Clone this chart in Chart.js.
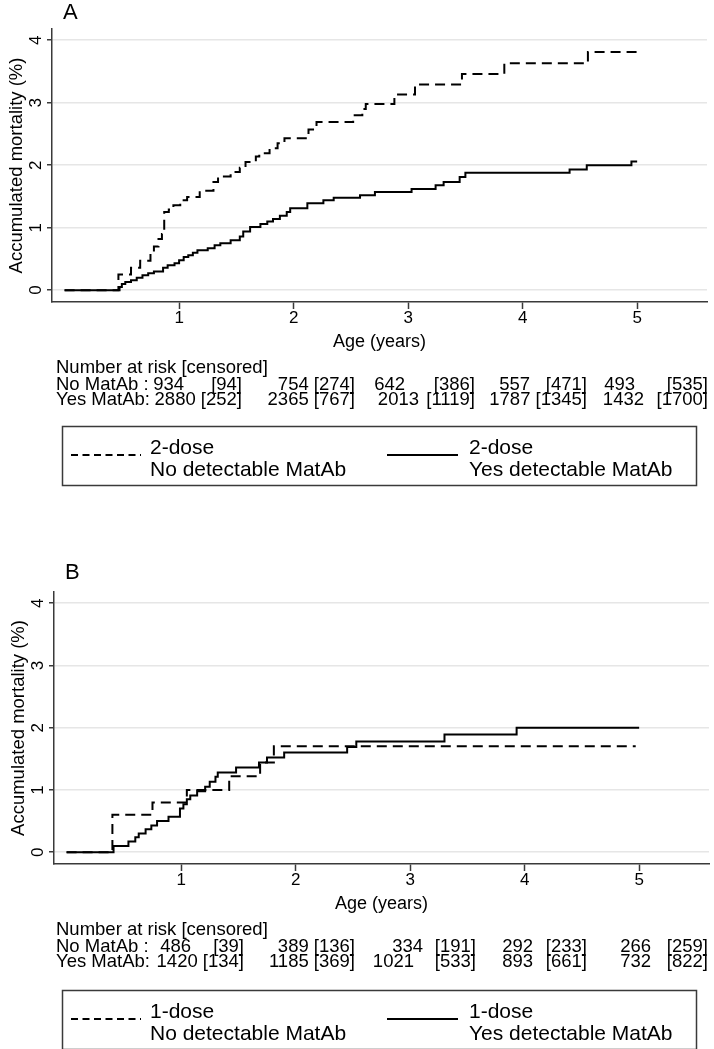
<!DOCTYPE html>
<html><head><meta charset="utf-8">
<script src="https://cdn.jsdelivr.net/npm/chart.js@4.4.1/dist/chart.umd.min.js"></script>
<style>
html,body{margin:0;padding:0;background:#fff;}
#wrap{position:relative;width:714px;height:1049px;overflow:hidden;background:#fff;}
canvas{position:absolute;left:0;}
</style></head><body>
<div id="wrap">
<canvas id="cA" width="714" height="561" style="top:0"></canvas>
<canvas id="cB" width="714" height="487" style="top:562px"></canvas>
</div>
<script>
// ---------- data ----------
const yTicks = [0, 1, 2, 3, 4];
const xTicks = [1, 2, 3, 4, 5];

// Panel A, 2-dose
const a2NoT  = [0, 0.47, 0.58, 0.66, 0.75, 0.78, 0.82, 0.85, 0.87, 0.91, 0.95, 1.01, 1.07, 1.18, 1.30, 1.34, 1.45, 1.53, 1.58, 1.67, 1.70, 1.79, 1.86, 1.92, 2.13, 2.20, 2.52, 2.60, 2.63, 2.88, 3.06, 3.47, 3.84, 4.57, 5.00];
const a2NoV  = [0, 0.25, 0.36, 0.47, 0.59, 0.70, 0.82, 0.90, 1.25, 1.29, 1.36, 1.44, 1.49, 1.59, 1.73, 1.82, 1.89, 1.96, 2.05, 2.14, 2.19, 2.27, 2.35, 2.43, 2.57, 2.69, 2.80, 2.90, 2.98, 3.13, 3.29, 3.46, 3.63, 3.81, 3.81];
const a2YesT = [0, 0.48, 0.50, 0.53, 0.58, 0.63, 0.68, 0.73, 0.78, 0.86, 0.90, 0.96, 1.00, 1.04, 1.08, 1.12, 1.16, 1.25, 1.31, 1.36, 1.45, 1.53, 1.56, 1.62, 1.71, 1.77, 1.82, 1.88, 1.94, 1.97, 2.12, 2.26, 2.35, 2.58, 2.71, 3.03, 3.24, 3.31, 3.45, 3.50, 4.41, 4.56, 4.95, 5.00];
const a2YesV = [0, 0.05, 0.10, 0.13, 0.16, 0.20, 0.24, 0.27, 0.30, 0.36, 0.40, 0.43, 0.48, 0.53, 0.56, 0.60, 0.64, 0.67, 0.72, 0.75, 0.80, 0.86, 0.94, 1.01, 1.06, 1.10, 1.14, 1.19, 1.25, 1.31, 1.39, 1.44, 1.48, 1.52, 1.57, 1.62, 1.68, 1.73, 1.81, 1.88, 1.93, 2.00, 2.06, 2.06];

// Panel B, 1-dose
const b1NoT  = [0, 0.40, 0.75, 1.05, 1.42, 1.69, 1.81, 4.97];
const b1NoV  = [0, 0.60, 0.80, 1.00, 1.22, 1.44, 1.70, 1.70];
const b1YesT = [0, 0.41, 0.54, 0.60, 0.63, 0.69, 0.74, 0.79, 0.89, 0.99, 1.02, 1.05, 1.08, 1.14, 1.21, 1.25, 1.30, 1.32, 1.48, 1.68, 1.75, 1.90, 2.45, 2.53, 3.30, 3.93, 5.00];
const b1YesV = [0, 0.10, 0.17, 0.24, 0.30, 0.37, 0.43, 0.50, 0.57, 0.70, 0.77, 0.85, 0.91, 0.98, 1.05, 1.13, 1.21, 1.28, 1.36, 1.44, 1.52, 1.60, 1.69, 1.78, 1.89, 2.00, 2.00];

// Number at risk [censored]
const riskNoA  = [934, 754, 642, 557, 493];
const censNoA  = [94, 274, 386, 471, 535];
const riskYesA = [2880, 2365, 2013, 1787, 1432];
const censYesA = [252, 767, 1119, 1345, 1700];
const riskNoB  = [486, 389, 334, 292, 266];
const censNoB  = [39, 136, 191, 233, 259];
const riskYesB = [1420, 1185, 1021, 893, 732];
const censYesB = [134, 369, 533, 661, 822];

const rowLabels = ['No MatAb :', 'Yes MatAb:'];
const tableHeader = 'Number at risk [censored]';
const legendA = [['2-dose', 'No detectable MatAb'], ['2-dose', 'Yes detectable MatAb']];
const legendB = [['1-dose', 'No detectable MatAb'], ['1-dose', 'Yes detectable MatAb']];
const yTitle = 'Accumulated mortality (%)';
const xTitle = 'Age (years)';

// ---------- style / layout ----------
const FF = '"Liberation Sans", Arial, Helvetica, sans-serif';
const AX = '#3a3a3a';
const GRID = '#e6e6e6';
const TABLE_PX = 18.5;

function pts(T, V) { return T.map((t, i) => ({ x: t, y: V[i] })); }

function makePanel(id, opt) {
  const extras = {
    id: 'extras',
    afterDraw(chart) {
      const ctx = chart.ctx;
      const ys = chart.scales.y;
      ctx.save();
      ctx.fillStyle = '#000';
      // rotated y tick labels
      ctx.font = '17px ' + FF;
      ctx.textAlign = 'center';
      ctx.textBaseline = 'alphabetic';
      yTicks.forEach(v => {
        const py = ys.getPixelForValue(v);
        ctx.save();
        ctx.translate(opt.yTickBase, py);
        ctx.rotate(-Math.PI / 2);
        ctx.fillText(String(v), 0, 0);
        ctx.restore();
      });
      // panel letter
      ctx.font = '22px ' + FF;
      ctx.textAlign = 'left';
      ctx.fillText(opt.letter, opt.letterX, opt.letterY);
      // risk table
      ctx.font = TABLE_PX + 'px ' + FF;
      ctx.textAlign = 'left';
      ctx.fillText(tableHeader, 56, 373);
      const sp = ctx.measureText(' ').width;
      const rows = [[opt.riskNo, opt.censNo, opt.numRightNo], [opt.riskYes, opt.censYes, opt.numRightYes]];
      const baseY = [390, 405];
      rows.forEach((r, ri) => {
        ctx.textAlign = 'left';
        ctx.fillText(rowLabels[ri], 56, baseY[ri]);
        ctx.textAlign = 'right';
        r[0].forEach((n, j) => {
          const br = '[' + r[1][j] + ']';
          const brLeft = opt.brRight[j] - ctx.measureText(br).width;
          const nr = Math.min(r[2][j], brLeft - sp);
          ctx.fillText(String(n), nr, baseY[ri]);
          ctx.fillText(br, opt.brRight[j], baseY[ri]);
        });
      });
      // legend
      const lt = opt.legendTop;
      ctx.strokeStyle = AX;
      ctx.lineWidth = 1.5;
      ctx.strokeRect(62.5, lt + 0.5, 634, 59);
      ctx.strokeStyle = '#000';
      ctx.lineWidth = 2;
      ctx.setLineDash([7, 4.5]);
      ctx.beginPath(); ctx.moveTo(71, lt + 29); ctx.lineTo(141, lt + 29); ctx.stroke();
      ctx.setLineDash([]);
      ctx.beginPath(); ctx.moveTo(387, lt + 29); ctx.lineTo(458, lt + 29); ctx.stroke();
      ctx.font = '21px ' + FF;
      ctx.textAlign = 'left';
      ctx.fillText(opt.legend[0][0], 150, lt + 28);
      ctx.fillText(opt.legend[0][1], 150, lt + 50);
      ctx.fillText(opt.legend[1][0], 469, lt + 28);
      ctx.fillText(opt.legend[1][1], 469, lt + 50);
      ctx.restore();
    }
  };

  return new Chart(document.getElementById(id), {
    type: 'line',
    data: {
      datasets: [
        { label: opt.legend[0].join(' '), data: pts(opt.noT, opt.noV), stepped: 'before',
          borderColor: '#000', borderWidth: 2, borderDash: [10, 6], pointRadius: 0, fill: false, borderCapStyle: 'butt' },
        { label: opt.legend[1].join(' '), data: pts(opt.yesT, opt.yesV), stepped: 'before',
          borderColor: '#000', borderWidth: 2, pointRadius: 0, fill: false, borderCapStyle: 'butt' }
      ]
    },
    options: {
      responsive: false,
      animation: false,
      devicePixelRatio: 1,
      layout: { padding: { left: opt.padL, right: opt.padR, top: opt.padT, bottom: opt.padB } },
      plugins: { legend: { display: false }, tooltip: { enabled: false } },
      scales: {
        x: {
          type: 'linear', min: -0.11, max: 5.61,
          afterBuildTicks: s => { s.ticks = xTicks.map(v => ({ value: v })); },
          afterFit: s => { s.height = 51; },
          border: { display: true, color: AX, width: 1.5 },
          grid: { display: true, drawOnChartArea: false, drawTicks: true, tickLength: 7, tickColor: AX, tickWidth: 1.5 },
          ticks: { color: '#000', font: { family: FF, size: 17 }, padding: -1, maxRotation: 0, autoSkip: false },
          title: { display: true, text: xTitle, color: '#000', font: { family: FF, size: 18 }, padding: { top: 0, bottom: 0 } }
        },
        y: {
          type: 'linear', min: -0.19, max: 4.18,
          afterBuildTicks: s => { s.ticks = yTicks.map(v => ({ value: v })); },
          afterFit: s => { s.width = 52; },
          border: { display: true, color: AX, width: 1.5 },
          grid: { display: true, drawOnChartArea: true, color: GRID, lineWidth: 1.5, drawTicks: true, tickLength: 5, tickColor: AX, tickWidth: 1.5 },
          ticks: { display: false },
          title: { display: true, text: yTitle, color: '#000', font: { family: FF, size: 18.5 }, padding: { top: 6, bottom: 0 } }
        }
      }
    },
    plugins: [extras]
  });
}

makePanel('cA', {
  letter: 'A', letterX: 63, letterY: 19,
  noT: a2NoT, noV: a2NoV, yesT: a2YesT, yesV: a2YesV,
  riskNo: riskNoA, censNo: censNoA, riskYes: riskYesA, censYes: censYesA,
  numRightNo: [184, 310, 405, 530, 635], numRightYes: [207, 310, 419, 533, 644],
  brRight: [242, 355, 475, 587, 708],
  legend: legendA, legendTop: 426,
  padL: 0, padR: 7, padT: 29, padB: 561 - 302 - 51,
  yTickBase: 41
});
makePanel('cB', {
  letter: 'B', letterX: 65, letterY: 17,
  noT: b1NoT, noV: b1NoV, yesT: b1YesT, yesV: b1YesV,
  riskNo: riskNoB, censNo: censNoB, riskYes: riskYesB, censYes: censYesB,
  numRightNo: [191, 314, 423, 533, 651], numRightYes: [214, 319, 414, 533, 651],
  brRight: [244, 355, 476, 587, 708],
  legend: legendB, legendTop: 428,
  padL: 2, padR: 5, padT: 30, padB: 487 - 302 - 51,
  yTickBase: 43
});
</script>
</body></html>
